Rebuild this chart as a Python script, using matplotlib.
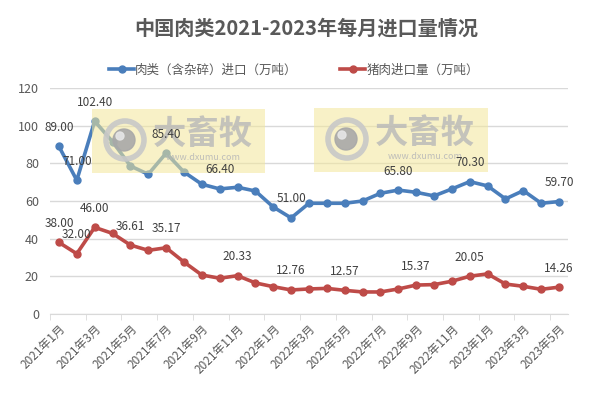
import numpy as np
import matplotlib
matplotlib.use("Agg")
import matplotlib.pyplot as plt
from matplotlib.patches import Rectangle, Circle
from matplotlib.transforms import IdentityTransform

plt.rcParams["font.family"] = ["Noto Sans CJK SC", "DejaVu Sans"]

# ── Data ────────────────────────────────────────────────────────────────────
months = [
    "2021年1月", "2021年2月", "2021年3月", "2021年4月", "2021年5月", "2021年6月",
    "2021年7月", "2021年8月", "2021年9月", "2021年10月", "2021年11月", "2021年12月",
    "2022年1月", "2022年2月", "2022年3月", "2022年4月", "2022年5月", "2022年6月",
    "2022年7月", "2022年8月", "2022年9月", "2022年10月", "2022年11月", "2022年12月",
    "2023年1月", "2023年2月", "2023年3月", "2023年4月", "2023年5月",
]
meat = [89.00, 71.00, 102.40, 91.5, 78.6, 74.2, 85.40, 75.4, 68.9, 66.40,
        67.3, 65.3, 56.8, 51.00, 58.8, 58.8, 58.8, 60.0, 64.1, 65.80,
        64.6, 62.7, 66.4, 70.30, 68.0, 61.1, 65.5, 58.8, 59.70]
pork = [38.00, 32.00, 46.00, 42.8, 36.61, 33.8, 35.17, 27.6, 20.7, 19.0,
        20.33, 16.5, 14.5, 12.76, 13.3, 13.6, 12.57, 11.7, 11.7, 13.3,
        15.37, 15.6, 17.4, 20.05, 21.3, 15.9, 14.7, 13.1, 14.26]
meat_labelled = [0, 1, 2, 6, 9, 13, 19, 23, 28]
pork_labelled = [0, 1, 2, 4, 6, 10, 13, 16, 20, 23, 28]

BLUE = "#4A7EBB"
RED = "#BE4B48"
GREY = "#595959"

W, H = 596, 394
fig = plt.figure(figsize=(W / 100, H / 100), dpi=100)
ax = fig.add_axes([50 / W, 1 - 314 / H, 518 / W, 226 / H])

x = np.arange(len(months))
ax.plot(x, meat, color=BLUE, lw=2.6, marker="o", ms=5, label="肉类（含杂碎）进口（万吨）", zorder=3)
ax.plot(x, pork, color=RED, lw=2.6, marker="o", ms=5, label="猪肉进口量（万吨）", zorder=3)

for i in meat_labelled:
    ax.annotate(f"{meat[i]:.2f}", (x[i], meat[i]), xytext=(0, 9), textcoords="offset points",
                ha="center", va="bottom", fontsize=8.5, color="#404040", zorder=6)
for i in pork_labelled:
    ax.annotate(f"{pork[i]:.2f}", (x[i], pork[i]), xytext=(0, 9), textcoords="offset points",
                ha="center", va="bottom", fontsize=8.5, color="#404040", zorder=6)

ax.set_xlim(-0.5, len(months) - 0.5)
ax.set_ylim(0, 120)
ax.set_yticks(range(0, 121, 20))
ax.grid(axis="y", color="#D9D9D9", lw=1)
ax.set_axisbelow(True)
for s in ["top", "right", "left"]:
    ax.spines[s].set_visible(False)
ax.spines["bottom"].set_color("#D9D9D9")
ax.tick_params(axis="y", length=0, labelsize=9, labelcolor=GREY, pad=8)

ax.set_xticks(x[::2])
ax.set_xticklabels(months[::2], rotation=45, ha="right", rotation_mode="anchor",
                   fontsize=8.5, color=GREY)
ax.set_xticks(np.arange(-0.5, len(months), 2), minor=True)
ax.tick_params(axis="x", which="major", length=0, pad=6)
ax.tick_params(axis="x", which="minor", length=4, color="#D9D9D9")

fig.text(306 / W, 1 - 28 / H, "中国肉类2021-2023年每月进口量情况", ha="center", va="center",
         fontsize=14.5, fontweight="bold", color=GREY)
fig.legend(loc="center", bbox_to_anchor=(294 / W, 1 - 70 / H), ncol=2, frameon=False,
           fontsize=9, labelcolor=GREY, columnspacing=3.4, handlelength=2.0, handletextpad=0.1)


# watermark boxes (pixel coordinates), above the lines but below the data labels
def watermark(x0, y0, x1, y1):
    px = IdentityTransform()
    ax.add_artist(Rectangle((x0, H - y1), x1 - x0, y1 - y0, transform=px,
                            color="#F3E79A", alpha=0.55, lw=0, zorder=4, clip_on=False))
    cx, cy = x0 + 33, H - (y0 + 31)
    ax.add_artist(Circle((cx, cy), 19, transform=px, fill=False, ec="#C8C8C8", lw=4,
                         alpha=0.9, zorder=5, clip_on=False))
    ax.add_artist(Circle((cx - 1, cy), 11, transform=px, color="#A8A8A8", alpha=0.9,
                         zorder=5, clip_on=False))
    ax.add_artist(Circle((cx - 5, cy + 4), 4, transform=px, color="#E6E6E6", alpha=0.9,
                         zorder=5, clip_on=False))
    ax.text((x0 + 111) / W, 1 - (y0 + 25) / H, "大畜牧", transform=fig.transFigure,
            ha="center", va="center", fontsize=24, fontweight="bold", color="#B8B8B8",
            alpha=0.8, zorder=5)
    ax.text((x0 + 111) / W, 1 - (y0 + 49) / H, "www.dxumu.com", transform=fig.transFigure,
            ha="center", va="center", fontsize=6.5, color="#B8B8B8", alpha=0.9, zorder=5)


watermark(92, 109, 265, 173)
watermark(314, 108, 488, 172)

fig.savefig("out.png", dpi=100)
